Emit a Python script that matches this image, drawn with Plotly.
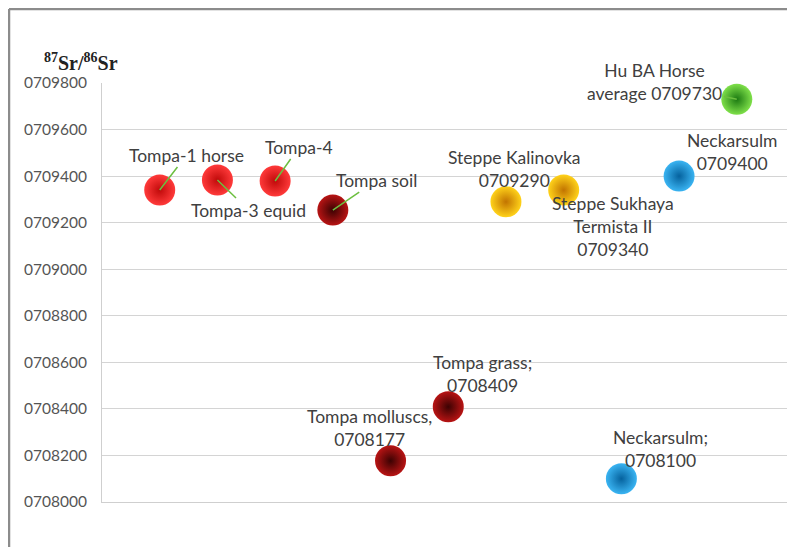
import plotly.graph_objects as go

# ---- data ----
names = ["Tompa-1 horse", "Tompa-3 equid", "Tompa-4", "Tompa soil",
         "Tompa molluscs", "Tompa grass", "Steppe Kalinovka",
         "Steppe Sukhaya Termista II", "Neckarsulm (2)", "Neckarsulm", "Hu BA Horse average"]
x_vals = [1, 2, 3, 4, 5, 6, 7, 8, 9, 10, 11]
sr_vals = [0.709340, 0.709383, 0.709379, 0.709254, 0.708177, 0.708409,
           0.709290, 0.709340, 0.708100, 0.709400, 0.709730]
label_texts = ["Tompa-1 horse", "Tompa-3 equid", "Tompa-4", "Tompa soil",
               "Tompa molluscs,<br>0708177", "Tompa grass;<br>0708409",
               "Steppe Kalinovka<br>0709290", "Steppe Sukhaya<br>Termista II<br>0709340",
               "Neckarsulm;<br>0708100", "Neckarsulm<br>0709400", "Hu BA Horse<br>average 0709730"]
tick_vals = [0.7080, 0.7082, 0.7084, 0.7086, 0.7088, 0.7090, 0.7092, 0.7094, 0.7096, 0.7098]
tick_text = ["0708000", "0708200", "0708400", "0708600", "0708800",
             "0709000", "0709200", "0709400", "0709600", "0709800"]

# ---- style ----
groups = ["red", "red", "red", "maroon", "maroon", "maroon", "gold", "gold", "blue", "blue", "green"]
centre_col = {"red": "#ff3a3a", "maroon": "#b81414", "gold": "#ffd21a", "blue": "#3ab4f2", "green": "#7fe04a"}
edge_col = {"red": "#c00a0a", "maroon": "#3c0202", "gold": "#c27400", "blue": "#05629e", "green": "#1c7a12"}

# page body has an 8px margin, so the figure is laid out in window coords minus 8
OFF = 8
W, H = 795 - OFF, 547 - OFF
L, R, T, B = 102 - OFF, 8, 83 - OFF, 45
pw, ph = W - L - R, H - T - B

fig = go.Figure()
for i in range(len(x_vals)):
    g = groups[i]
    fig.add_trace(go.Scatter(
        x=[x_vals[i]], y=[sr_vals[i]], mode="markers", name=names[i],
        marker=dict(size=31, color=centre_col[g],
                    gradient=dict(type="radial", color=edge_col[g]),
                    line=dict(width=0)),
        showlegend=False, hoverinfo="skip"))

font_lbl = dict(family="Lato, 'Open Sans', sans-serif", size=17.5, color="#404040")
green = "#6cbf3f"

# leader-line labels: (index, ax, ay)
arrow_lbls = [(0, 27, -35), (1, 31, 30), (2, 24, -34), (3, 44, -30), (10, -82, -17)]
for i, ax, ay in arrow_lbls:
    fig.add_annotation(x=x_vals[i], y=sr_vals[i], text=label_texts[i], showarrow=True,
                       ax=ax, ay=ay, arrowhead=0, arrowwidth=1.5, arrowcolor=green,
                       font=font_lbl, align="center")

# plain labels: (index, xshift, yshift)
plain_lbls = [(4, -21, 33), (5, 34, 33), (6, 9, 33), (7, 49, -36), (8, 39, 30), (9, 53, 24)]
for i, xs, ys in plain_lbls:
    fig.add_annotation(x=x_vals[i], y=sr_vals[i], text=label_texts[i], showarrow=False,
                       xshift=xs, yshift=ys, font=font_lbl, align="center")


def px(xw):
    return (xw - OFF - L) / pw


def py(yw):
    return (H - B - (yw - OFF)) / ph


# y-axis title
fig.add_annotation(xref="paper", yref="paper", x=px(81), y=py(62),
                   xanchor="center", yanchor="middle",
                   text="<b><sup>87</sup>Sr/<sup>86</sup>Sr</b>", showarrow=False,
                   font=dict(family="Liberation Serif, serif", size=20, color="#222222"))

# outer frame (left and top edges visible)
fig.add_shape(type="line", xref="paper", yref="paper", x0=px(9), x1=px(9), y0=py(9), y1=py(600),
              line=dict(color="#8c8c8c", width=2.5))
fig.add_shape(type="line", xref="paper", yref="paper", x0=px(9), x1=px(820), y0=py(9), y1=py(9),
              line=dict(color="#8c8c8c", width=2.5))

fig.update_layout(
    width=W, height=H, margin=dict(l=L, r=R, t=T, b=B),
    paper_bgcolor="white", plot_bgcolor="white",
    xaxis=dict(range=[0, 11.87], showticklabels=False, showgrid=False, zeroline=False,
               showline=True, linecolor="#cfcfcf", linewidth=1),
    yaxis=dict(range=[0.7080, 0.7098], tickvals=tick_vals, ticktext=tick_text,
               showgrid=True, gridcolor="#d4d4d4", gridwidth=1, zeroline=False,
               showline=True, linecolor="#cfcfcf", linewidth=1, ticks="",
               ticklabelstandoff=11,
               tickfont=dict(family="Lato, 'Open Sans', sans-serif", size=15.5, color="#555555")),
)

fig.write_html("out.html")
